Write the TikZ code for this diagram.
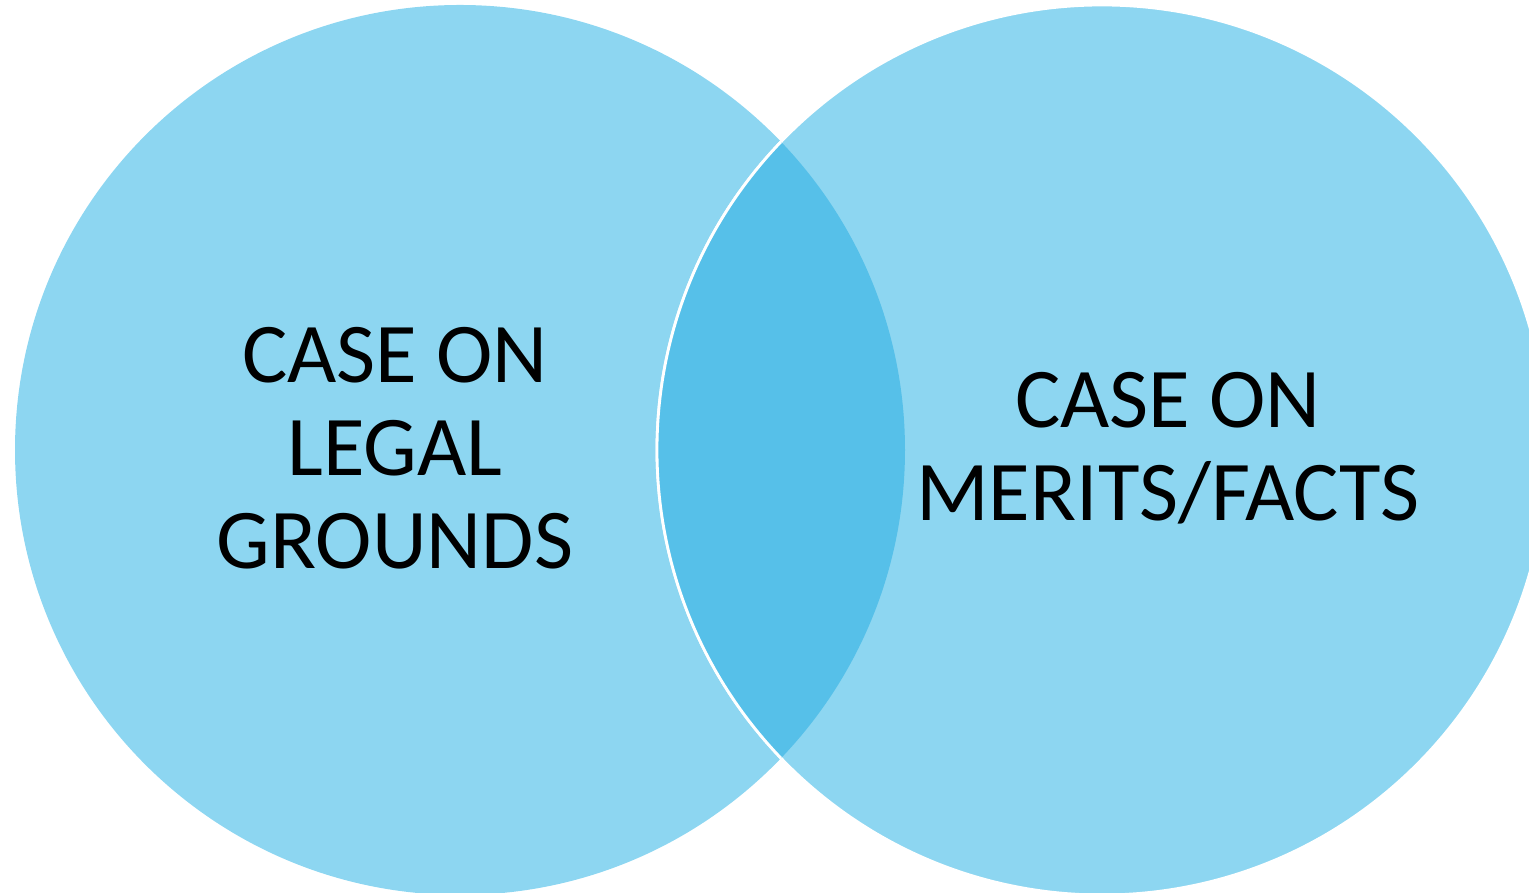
\documentclass[tikz,border=0pt]{standalone}
\usepackage{fontspec}
\setmainfont{Carlito}
\usetikzlibrary{positioning}
\definecolor{setblue}{HTML}{8DD6F1}
\definecolor{overlapblue}{HTML}{56C0E9}

\begin{document}
\begin{tikzpicture}
    \useasboundingbox (0,0) rectangle (15.29,8.93);
    \clip (0,0) rectangle (15.29,8.93);
    \coordinate (L) at (4.60,4.43);
    \coordinate (R) at (11.02,4.43);

    % the two sets
    \fill[setblue] (L) circle (4.45);
    \filldraw[fill=setblue, draw=white, line width=0.8pt] (R) circle (4.45);
    \begin{scope}
        \clip (L) circle (4.45);
        \filldraw[fill=overlapblue, draw=white, line width=0.8pt] (R) circle (4.45);
    \end{scope}

    \begin{scope}[every node/.style={align=center, font=\fontsize{24.2}{26.4}\selectfont}]
        \node (legal) at (3.95,4.45) {CASE ON\\LEGAL\\GROUNDS};
        \node (merits) at (11.68,4.45) {CASE ON\\MERITS/FACTS};
    \end{scope}
\end{tikzpicture}
\end{document}
